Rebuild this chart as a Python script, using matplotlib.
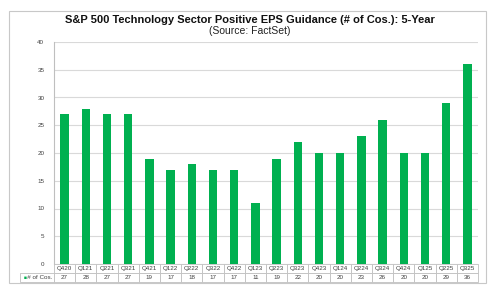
import matplotlib.pyplot as plt
from matplotlib.patches import Rectangle

plt.rcParams['font.family'] = ['Liberation Sans', 'DejaVu Sans']

quarters = ["Q420", "Q121", "Q221", "Q321", "Q421", "Q122", "Q222", "Q322", "Q422", "Q123",
            "Q223", "Q323", "Q423", "Q124", "Q224", "Q324", "Q424", "Q125", "Q225", "Q325"]
counts = [27, 28, 27, 27, 19, 17, 18, 17, 17, 11, 19, 22, 20, 20, 23, 26, 20, 20, 29, 36]
series_name = "# of Cos."

green = "#00B050"
grid_col = "#D9D9D9"
txt_col = "#404040"

fig = plt.figure(figsize=(5, 2.9), dpi=100)
W, H = 500, 290

# outer frame of the chart
fig.patches.append(Rectangle((9 / W, 1 - 283 / H), 477 / W, 272 / H, transform=fig.transFigure,
                             fill=False, edgecolor="#C8C8C8", linewidth=0.8))

ax = fig.add_axes([54 / W, 1 - 264 / H, 424 / W, 222 / H])
x = range(len(quarters))
ax.bar(x, counts, width=0.4, color=green, zorder=3)
ax.set_xlim(-0.5, len(quarters) - 0.5)
ax.set_ylim(0, 40)
ax.set_yticks(range(0, 41, 5))
ax.yaxis.grid(True, color=grid_col, linewidth=0.8, zorder=0)
ax.tick_params(axis="y", length=0, labelsize=4.5, labelcolor=txt_col, pad=7)
ax.set_xticks([])
for s in ["top", "right", "bottom"]:
    ax.spines[s].set_visible(False)
ax.spines["left"].set_color("#BFBFBF")
ax.spines["left"].set_linewidth(0.8)

# data table under the bars
lab_w = 34 / 424
n = len(quarters)
cell_text = [[""] + quarters, [series_name] + [str(v) for v in counts]]
tbl = ax.table(cellText=cell_text, cellLoc="center",
               colWidths=[lab_w] + [1 / n] * n,
               bbox=[-lab_w, -18 / 222, 1 + lab_w, 18 / 222])
tbl.auto_set_font_size(False)
tbl.set_fontsize(4.5)
for (r, c), cell in tbl.get_celld().items():
    cell.set_edgecolor("#BFBFBF")
    cell.set_linewidth(0.6)
    cell.get_text().set_color(txt_col)
    cell.PAD = 0.02
tbl[0, 0].set_linewidth(0)
tbl[1, 0].get_text().set_text("   " + series_name)
ax.text(-lab_w + 0.008, -13.5 / 222, "■", transform=ax.transAxes, color=green,
        fontsize=3.5, ha="left", va="center", clip_on=False)

fig.text(0.5, 1 - 20 / H, "S&P 500 Technology Sector Positive EPS Guidance (# of Cos.): 5-Year",
         ha="center", va="center", fontsize=8, fontweight="bold", color="#111111")
fig.text(0.5, 1 - 30.5 / H, "(Source: FactSet)", ha="center", va="center", fontsize=7.5, color="#222222")

fig.savefig("out.png", dpi=100)
